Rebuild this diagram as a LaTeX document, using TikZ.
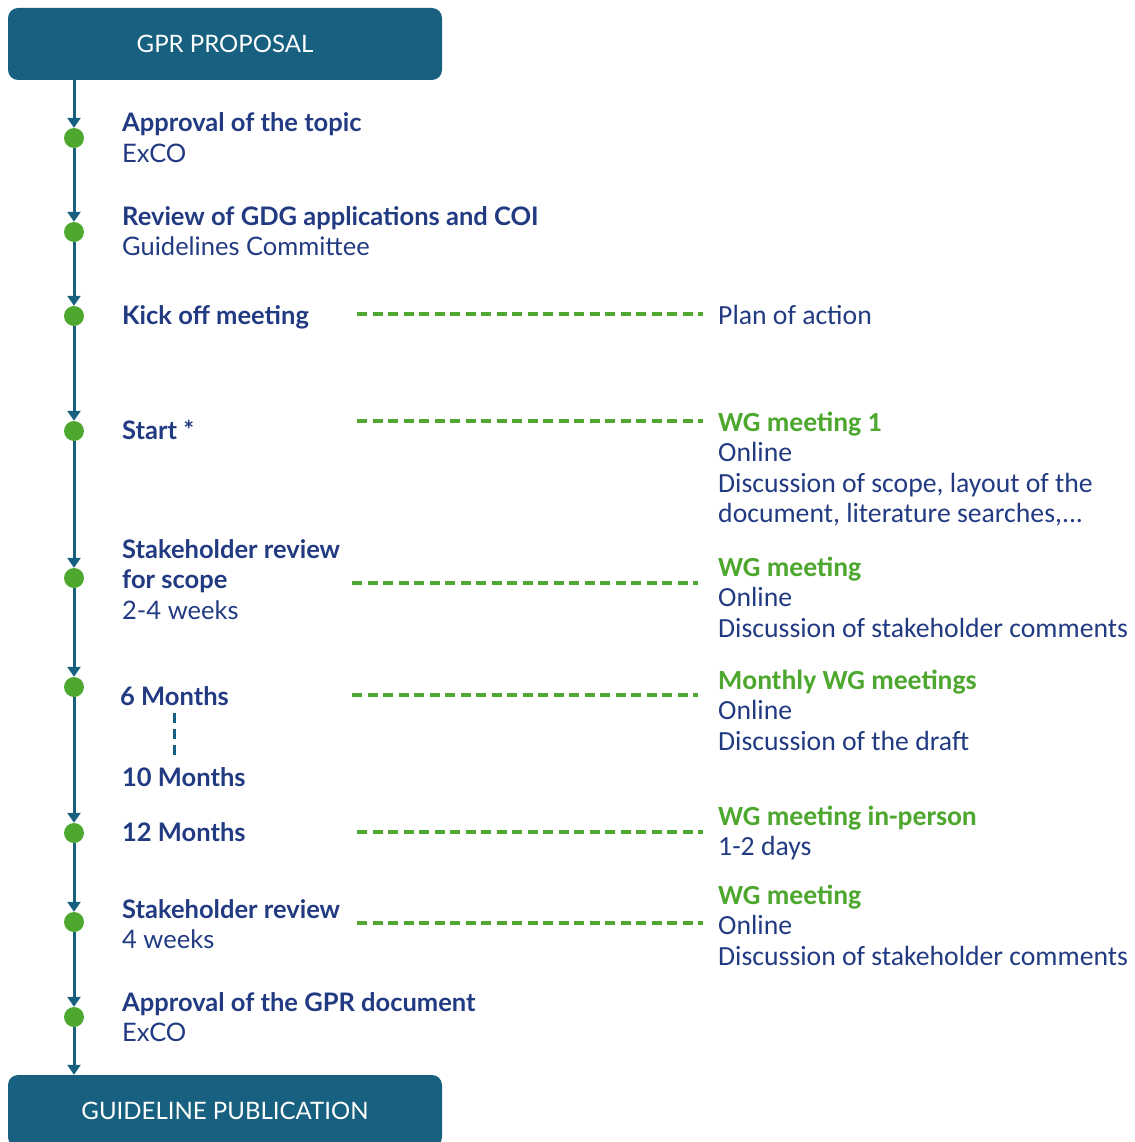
\documentclass[tikz,border=0pt]{standalone}
\usepackage{fontspec}
\setmainfont{Lato}
\newfontfamily\narrowfont{Carlito}
\usepackage{xcolor}
\definecolor{gprblue}{HTML}{17607F}
\definecolor{gprnavy}{HTML}{213A82}
\definecolor{gprgreen}{HTML}{4EA72E}
\usetikzlibrary{arrows.meta}
\usetikzlibrary{positioning}

\begin{document}
\begin{tikzpicture}[x=1pt,y=-1pt,
	box/.style={fill=gprblue,rounded corners=10pt,minimum width=434pt,minimum height=72pt,text=white,font=\fontsize{24}{28}\selectfont},
	dot/.style={circle,fill=gprgreen,inner sep=0pt,minimum size=20pt},
	flow/.style={gprblue,line width=3pt,-{Triangle[width=13pt,length=10pt]}},
	link/.style={gprgreen,line width=3.5pt,dash pattern=on 10pt off 5.5pt},
	lefttext/.style={anchor=base west,align=left,inner sep=0pt,text=gprnavy,font=\fontsize{25.5}{30.5}\selectfont},
	righttext/.style={anchor=base west,align=left,inner sep=0pt,text=gprnavy,font=\narrowfont\fontsize{27.7}{30.5}\selectfont}]
		\useasboundingbox (0,0) rectangle (1134,1142);
		
		%start and end boxes
		\node[box] (gpr) at (225,44) {GPR PROPOSAL};
		\node[box] (pub) at (225,1111) {GUIDELINE PUBLICATION};
		
		%draw bullet points
		\foreach \y [count=\i] in {138,232,316,431,578,687,833,922,1017}
		\node[dot] (d\i) at (74,\y) {};
		
		%draw vertical line
		\draw[flow] (d1 |- gpr.south) -- (d1);
		\foreach \i/\j in {1/2,2/3,3/4,4/5,5/6,6/7,7/8,8/9}
		\draw[flow] (d\i) -- (d\j);
		\draw[flow] (d9) -- (d9 |- pub.north);
		
		%steps (node placed at the baseline of its last line)
		\node[lefttext] (topic) at (122,162.5) {{\bfseries Approval of the topic}\\ExCO};
		\node[lefttext] (gdg) at (122,255.5) {{\bfseries Review of GDG applications and COI}\\Guidelines Committee};
		\node[lefttext] (kick) at (122,324) {\bfseries Kick off meeting};
		\node[lefttext] (start) at (122,439) {\bfseries Start *};
		\node[lefttext] (scope) at (122,619) {{\bfseries Stakeholder review}\\{\bfseries for scope}\\2-4 weeks};
		\node[lefttext] (six) at (120,705) {\bfseries 6 Months};
		\node[lefttext] (ten) at (122,786) {\bfseries 10 Months};
		\node[lefttext] (twelve) at (122,841) {\bfseries 12 Months};
		\node[lefttext] (review) at (122,948.5) {{\bfseries Stakeholder review}\\4 weeks};
		\node[lefttext] (final) at (122,1041.5) {{\bfseries Approval of the GPR document}\\ExCO};
		
		\draw[gprblue,line width=2.5pt,dash pattern=on 10pt off 6pt] ([yshift=-8pt]six.south) -- ([yshift=10pt]six.south |- ten.north);
		
		%meetings
		\node[righttext] (plan) at (718,324) {Plan of action};
		\node[righttext] (wg1) at (718,522.5) {{\color{gprgreen}\bfseries WG meeting 1}\\Online\\Discussion of scope, layout of the\\document, literature searches,...};
		\node[righttext] (wg2) at (718,637) {{\color{gprgreen}\bfseries WG meeting}\\Online\\Discussion of stakeholder comments};
		\node[righttext] (monthly) at (718,750) {{\color{gprgreen}\bfseries Monthly WG meetings}\\Online\\Discussion of the draft};
		\node[righttext] (person) at (718,855.5) {{\color{gprgreen}\bfseries WG meeting in-person}\\1-2 days};
		\node[righttext] (wg3) at (718,965) {{\color{gprgreen}\bfseries WG meeting}\\Online\\Discussion of stakeholder comments};
		
		%dashed links
		\foreach \n/\y/\xa/\xb in {a/314/357/703,b/421/357/703,c/583/352/698,d/695/352/698,e/832/357/703,f/923/357/703}{
			\coordinate (la\n) at (\xa,\y);
			\coordinate (lb\n) at (\xb,\y);
			\draw[link] (la\n) -- (lb\n);
		}
\end{tikzpicture}
\end{document}
